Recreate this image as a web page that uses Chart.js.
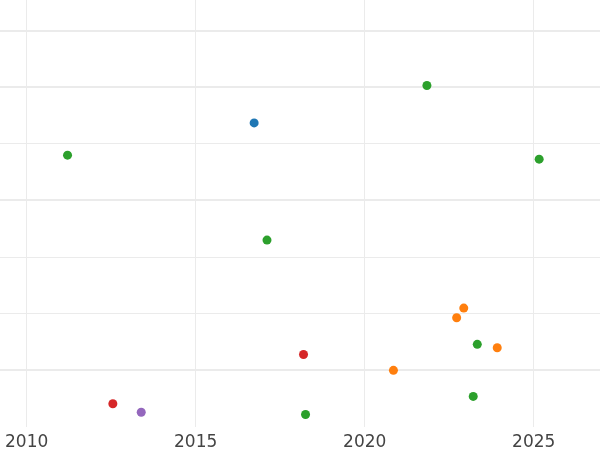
<!DOCTYPE html>
<html>
<head>
<meta charset="utf-8">
<script src="https://cdn.jsdelivr.net/npm/chart.js@4"></script>
<style>
  html, body { margin: 0; padding: 0; background: #fff; }
  #wrap { width: 600px; height: 450px; }
</style>
</head>
<body>
<div id="wrap"><canvas id="chart"></canvas></div>
<script>
// groups of points, year on x, value on y
const blueX = [2016.73];
const blueY = [5.37];
const orangeX = [2022.93, 2022.72, 2023.92, 2020.85];
const orangeY = [2.10, 1.93, 1.40, 1.00];
const greenX = [2011.21, 2021.84, 2025.16, 2017.11, 2023.33, 2023.21, 2018.25];
const greenY = [4.80, 6.03, 4.73, 3.30, 1.46, 0.54, 0.22];
const redX = [2018.19, 2012.55];
const redY = [1.28, 0.41];
const purpleX = [2013.39];
const purpleY = [0.26];

const xTicks = [2010, 2015, 2020, 2025];
const yTicks = [1, 2, 3, 4, 5, 6, 7];
const yTicksBold = [1, 4, 6, 7];

function pts(xs, ys) {
    return xs.map((x, i) => ({ x: x, y: ys[i] }));
}

function series(xs, ys, color) {
    return {
        data: pts(xs, ys),
        backgroundColor: color,
        borderColor: color,
        borderWidth: 0,
        pointRadius: 4.5,
        pointHoverRadius: 4.5,
    };
}

const ctx = document.getElementById('chart').getContext('2d');
new Chart(ctx, {
    type: 'scatter',
    data: {
        datasets: [
            series(blueX, blueY, '#1f77b4'),
            series(orangeX, orangeY, '#ff7f0e'),
            series(greenX, greenY, '#2ca02c'),
            series(redX, redY, '#d62728'),
            series(purpleX, purpleY, '#9467bd'),
        ],
    },
    options: {
        responsive: true,
        maintainAspectRatio: false,
        animation: false,
        layout: { padding: 0, autoPadding: false },
        plugins: {
            legend: { display: false },
            tooltip: { enabled: false },
        },
        scales: {
            x: {
                type: 'linear',
                min: 2009.22,
                max: 2026.96,
                afterBuildTicks: (scale) => {
                    scale.ticks = xTicks.map(v => ({ value: v }));
                },
                afterFit: (scale) => {
                    scale.height = 23;
                },
                border: { display: false },
                grid: { color: '#ebebeb', lineWidth: 1, drawTicks: false },
                ticks: {
                    padding: 5,
                    color: '#444',
                    font: { family: 'DejaVu Sans', size: 17 },
                    callback: (v) => String(v),
                },
            },
            y: {
                type: 'linear',
                min: 0,
                max: 7.54,
                afterBuildTicks: (scale) => {
                    scale.ticks = yTicks.map(v => ({ value: v }));
                },
                border: { display: false },
                grid: {
                    color: '#ebebeb',
                    drawTicks: false,
                    lineWidth: (c) => (c.tick && yTicksBold.includes(c.tick.value) ? 2 : 1),
                },
                ticks: { display: false },
            },
        },
    },
});
</script>
</body>
</html>
